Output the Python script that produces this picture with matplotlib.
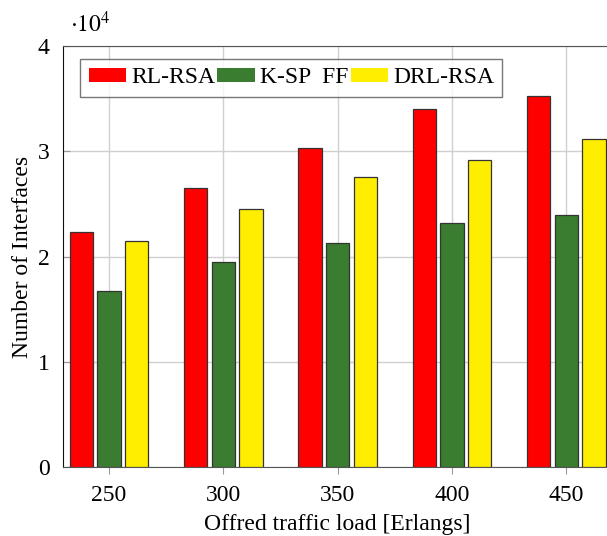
import numpy as np
import matplotlib.pyplot as plt

plt.rcParams['font.family'] = ['Liberation Serif', 'DejaVu Serif']
plt.rcParams['mathtext.fontset'] = 'stix'

# data (units of interfaces)
loads = np.array([250, 300, 350, 400, 450])
rl_rsa = [22300, 26500, 30300, 34000, 35300]
ksp_ff = [16700, 19500, 21300, 23200, 23900]
drl_rsa = [21500, 24500, 27600, 29200, 31200]

series = [('RL-RSA', rl_rsa, '#ff0000'),
          ('K-SP  FF', ksp_ff, '#3a7d30'),
          ('DRL-RSA', drl_rsa, '#ffee00')]

fig = plt.figure(figsize=(6.07, 5.36), dpi=100)
ax = fig.add_axes([0.1043, 0.1287, 0.9038, 0.7854])

offset = 12.1
width = 10.2
for i, (name, vals, col) in enumerate(series):
    ax.bar(loads + (i - 1) * offset, np.array(vals) / 1e4, width=width,
           color=col, edgecolor='#333333', linewidth=0.9, label=name, zorder=3)

ax.set_xlim(230, 470)
ax.set_ylim(0, 4)
ax.set_xticks(loads)
ax.set_yticks([0, 1, 2, 3, 4])
ax.grid(True, color='#d0d0d0', linewidth=1.0, zorder=0)
ax.set_axisbelow(True)

ax.tick_params(axis='x', direction='out', length=5, color='#999999', labelsize=17, pad=8)
ax.tick_params(axis='y', direction='in', length=5, color='#999999', labelsize=17, pad=10)
for s in ['top', 'bottom', 'right']:
    ax.spines[s].set_color('#555555')
ax.spines['left'].set_color('#111111')

ax.set_xlabel('Offred traffic load [Erlangs]', fontsize=17, labelpad=6)
ax.set_ylabel('Number of Interfaces', fontsize=17, labelpad=3)

fig.text(0.115, 0.955, r'$\cdot 10^4$', fontsize=17, ha='left', va='center')

leg = ax.legend(loc='upper left', ncol=3, fontsize=17, frameon=True, fancybox=False,
                bbox_to_anchor=(0.031, 0.969), handlelength=1.6, handleheight=0.55,
                handletextpad=0.2, columnspacing=0.1, borderpad=0.35, borderaxespad=0)
leg.get_frame().set_edgecolor('#555555')
leg.get_frame().set_linewidth(1.0)
for h in leg.legend_handles:
    h.set_edgecolor('none')

fig.savefig('out.png', dpi=100)
